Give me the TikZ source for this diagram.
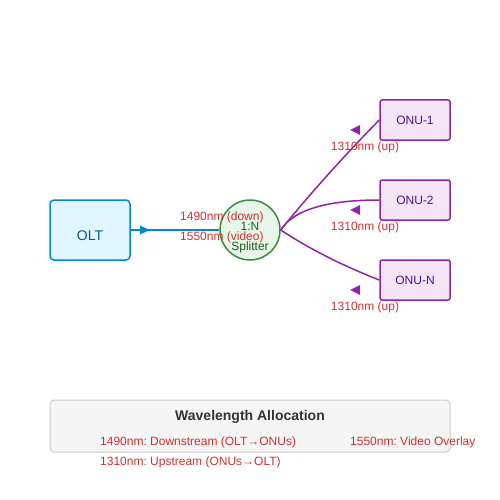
\documentclass[tikz,border=0pt]{standalone}
\usepackage{fontspec}
\setmainfont{Liberation Sans}
\frenchspacing
\usetikzlibrary{arrows}

\definecolor{oltblue}{HTML}{0288D1}
\definecolor{oltfill}{HTML}{E1F5FE}
\definecolor{olttext}{HTML}{01579B}
\definecolor{splitgreen}{HTML}{388E3C}
\definecolor{splitfill}{HTML}{E8F5E9}
\definecolor{splittext}{HTML}{1B5E20}
\definecolor{onupurple}{HTML}{8E24AA}
\definecolor{onufill}{HTML}{F3E5F5}
\definecolor{onutext}{HTML}{4A148C}
\definecolor{wavered}{HTML}{D32F2F}
\definecolor{legendfill}{HTML}{F5F5F5}
\definecolor{legenddraw}{HTML}{CCCCCC}
\definecolor{legendtext}{HTML}{333333}

\tikzset{
  olt/.style={shape=rectangle, rounded corners=4pt, minimum width=80pt, minimum height=60pt, line width=1.5pt, draw=oltblue, fill=oltfill},
  splitter/.style={shape=circle, minimum size=60pt, inner sep=0pt, line width=1.5pt, draw=splitgreen, fill=splitfill},
  onu/.style={shape=rectangle, rounded corners=2pt, minimum width=70pt, minimum height=40pt, line width=1.5pt, draw=onupurple, fill=onufill, text=onutext, font={\fontsize{12}{14}\selectfont}},
  wave/.style={text=wavered, inner sep=0pt, font={\fontsize{12}{14}\selectfont}},
  fiber/.style={draw=onupurple, line width=1.5pt},
  tri/.style={fill=onupurple}
}

\begin{document}
\begin{tikzpicture}[x=1pt,y=-1pt]
\useasboundingbox (0,0) rectangle (500,500);

\node [olt] (olt) at (90,230) {};
\node [text=olttext, inner sep=0pt, anchor=base, font={\fontsize{14}{16}\selectfont}] (oltname) at (90,240) {OLT};

\node [splitter] (split) at (250,230) {};
\node [text=splittext, inner sep=0pt, anchor=base, font={\fontsize{12}{14}\selectfont}] (splitratio) at (250,230) {1:N};
\node [text=splittext, inner sep=0pt, anchor=base, font={\fontsize{12}{14}\selectfont}] (splitname) at (250,250) {Splitter};

\node [onu] (onu1) at (415,120) {ONU-1};
\node [onu] (onu2) at (415,200) {ONU-2};
\node [onu] (onuN) at (415,280) {ONU-N};

\draw [draw=oltblue, line width=2.5pt] (olt.east) -- (split.west);
\fill [oltblue] (140,225.5) -- (150,230) -- (140,234.5) -- cycle;
\node [wave, anchor=base west] (down) at (180,220) {1490nm (down)};
\node [wave, anchor=base west] (video) at (180,240) {1550nm (video)};

\draw [fiber] (split.east) .. controls (313,190) and (347,153) .. (onu1.west);
\draw [fiber] (split.east) .. controls (293,210) and (327,200) .. (onu2.west);
\draw [fiber] (split.east) .. controls (308,248) and (341,265) .. (onuN.west);

\fill [tri] (350,130) -- (360,125) -- (360,135) -- cycle;
\fill [tri] (350,210) -- (360,205) -- (360,215) -- cycle;
\fill [tri] (350,290) -- (360,285) -- (360,295) -- cycle;
\node [wave, anchor=base] (up1) at (365,150) {1310nm (up)};
\node [wave, anchor=base] (up2) at (365,230) {1310nm (up)};
\node [wave, anchor=base] (upN) at (365,310) {1310nm (up)};

% legend
\node [shape=rectangle, rounded corners=4pt, minimum width=400pt, minimum height=52pt, line width=1pt, draw=legenddraw, fill=legendfill] (legend) at (250,426) {};
\node [text=legendtext, inner sep=0pt, anchor=base, font={\fontsize{14}{16}\selectfont\bfseries}] (legendtitle) at (250,420) {Wavelength Allocation};
\node [wave, anchor=base west] (leg1490) at (100,445) {1490nm: Downstream (OLT→ONUs)};
\node [wave, anchor=base west] (leg1550) at (350,445) {1550nm: Video Overlay};
\node [wave, anchor=base west] (leg1310) at (100,465) {1310nm: Upstream (ONUs→OLT)};
\end{tikzpicture}
\end{document}
